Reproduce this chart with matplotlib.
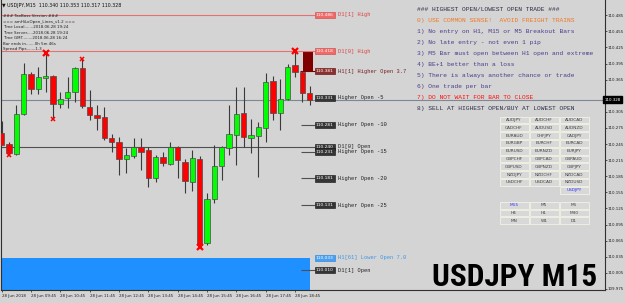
import matplotlib
matplotlib.use("Agg")
import matplotlib.pyplot as plt
from matplotlib.patches import Rectangle
from matplotlib import font_manager

W, H = 625, 303
BG = "#d4d4d4"

# USDJPY M15, 28 Jun 2018 08:45 .. 19:15
opens = [110.266, 110.245, 110.227, 110.301, 110.376, 110.348, 110.368, 110.372, 110.320, 110.331,
         110.342, 110.387, 110.314, 110.299, 110.295, 110.256, 110.249, 110.217, 110.223, 110.240,
         110.234, 110.182, 110.221, 110.208, 110.240, 110.212, 110.174, 110.217, 110.061, 110.143,
         110.204, 110.238, 110.262, 110.303, 110.256, 110.260, 110.275, 110.363, 110.303, 110.329,
         110.392, 110.379, 110.340]
highs = [110.288, 110.249, 110.318, 110.396, 110.379, 110.389, 110.415, 110.374, 110.342, 110.370,
         110.389, 110.404, 110.346, 110.318, 110.314, 110.264, 110.258, 110.238, 110.256, 110.256,
         110.240, 110.225, 110.230, 110.249, 110.241, 110.217, 110.234, 110.223, 110.154, 110.243,
         110.241, 110.318, 110.351, 110.351, 110.292, 110.286, 110.377, 110.372, 110.366, 110.394,
         110.418, 110.381, 110.353]
lows = [110.249, 110.225, 110.225, 110.299, 110.338, 110.338, 110.342, 110.292, 110.312, 110.312,
        110.323, 110.312, 110.290, 110.271, 110.253, 110.230, 110.187, 110.191, 110.219, 110.197,
        110.165, 110.174, 110.204, 110.206, 110.182, 110.154, 110.158, 110.053, 110.057, 110.135,
        110.178, 110.225, 110.206, 110.240, 110.228, 110.184, 110.249, 110.290, 110.271, 110.327,
        110.370, 110.323, 110.317]
closes = [110.243, 110.228, 110.301, 110.376, 110.348, 110.370, 110.372, 110.320, 110.329, 110.342,
          110.387, 110.316, 110.299, 110.294, 110.256, 110.249, 110.217, 110.225, 110.240, 110.230,
          110.182, 110.221, 110.210, 110.240, 110.215, 110.176, 110.219, 110.057, 110.143, 110.204,
          110.240, 110.264, 110.301, 110.258, 110.262, 110.277, 110.361, 110.303, 110.329, 110.389,
          110.379, 110.340, 110.328]

time_bars = [0, 4, 8, 12, 16, 20, 24, 28, 32, 36, 40]
time_labels = ["28 Jun 2018", "28 Jun 09:45", "28 Jun 10:45", "28 Jun 11:45", "28 Jun 12:45",
               "28 Jun 13:45", "28 Jun 14:45", "28 Jun 15:45", "28 Jun 16:45", "28 Jun 17:45",
               "28 Jun 18:45"]
price_ticks = [109.975, 110.005, 110.035, 110.065, 110.095, 110.125, 110.155, 110.185, 110.215,
               110.245, 110.275, 110.305, 110.335, 110.365, 110.395, 110.425, 110.455, 110.485]
bid = 110.328

level_names = ["D1[1] High", "D1[0] High", "H1[1] Higher Open 3.7", "Higher Open -5",
               "Higher Open -10", "D1[0] Open", "Higher Open -15", "Higher Open -20",
               "Higher Open -25", "H1[61] Lower Open 7.0", "D1[1] Open"]
level_prices = [110.486, 110.418, 110.381, 110.331, 110.281, 110.240, 110.231, 110.181,
                110.131, 110.033, 110.010]
level_kinds = ["high", "high", "h1", "dark", "dark", "dark", "dark", "dark", "dark", "low", "dark"]

fractal_bars = [6, 40, 27, 11, 7, 1]
fractal_prices = [110.415, 110.418, 110.053, 110.404, 110.292, 110.225]
fractal_big = [True, True, True, False, False, False]

info_lines = ["### TaxBoss Version ###", "=== amHiLoOpen_Lines_v1.2 ===",
              "Time Local.......2018.06.28 19:24", "Time Server.....2018.06.28 19:24",
              "Time GMT........2018.06.28 16:24", "Bar ends in.......0h 5m 46s",
              "Spread Pips.......1.3"]

rules = ["### HIGHEST OPEN/LOWEST OPEN TRADE ###",
         "0) USE COMMON SENSE!  AVOID FREIGHT TRAINS",
         "1) No entry on H1, M15 or M5 Breakout Bars",
         "2) No late entry - not even 1 pip",
         "3) M5 Bar must open between H1 open and extreme",
         "4) BE+1 better than a loss",
         "5) There is always another chance or trade",
         "6) One trade per bar",
         "7) DO NOT WAIT FOR BAR TO CLOSE",
         "8) SELL AT HIGHEST OPEN/BUY AT LOWEST OPEN"]
rule_colors = ["#2e2e48", "#f07828", "#4b3c8c", "#4b3c8c", "#4b3c8c", "#4b3c8c", "#4b3c8c",
               "#4b3c8c", "#ff1010", "#2e2e48"]

pairs = [["AUDJPY", "AUDCHF", "AUDCAD"], ["CADCHF", "AUDUSD", "AUDNZD"],
         ["EURAUD", "CHFJPY", "CADJPY"], ["EURGBP", "EURCHF", "EURCAD"],
         ["EURUSD", "EURNZD", "EURJPY"], ["GBPCHF", "GBPCAD", "GBPAUD"],
         ["GBPUSD", "GBPNZD", "GBPJPY"], ["NZDJPY", "NZDCHF", "NZDCAD"],
         ["USDCHF", "USDCAD", "NZDUSD"], ["", "", "USDJPY"]]
timeframes = [["M15", "M5", "M1"], ["H4", "H1", "M30"], ["MN", "W1", "D1"]]
active = ["USDJPY", "M15"]

# ---- pixel helpers (image coords, y down) ----
PX_PER_BAR = 7.33
X0 = 1.7
PX_PER_PRICE = 536.7
P_AT_289 = 109.975


def xi(px):
    return (px - X0) / PX_PER_BAR


def fx(px):
    return px / W


def fy(py):
    return 1 - py / H


fig = plt.figure(figsize=(W / 100, H / 100), dpi=100, facecolor=BG)
ax = fig.add_axes([1.5 / W, 1 - 290 / H, (604.5 - 1.5) / W, 290 / H])
ax.set_facecolor(BG)
ax.set_xlim(xi(1.5), xi(604.5))
ax.set_ylim(P_AT_289 - 1 / PX_PER_PRICE, P_AT_289 + 289 / PX_PER_PRICE)

ax.spines["top"].set_visible(False)
for s in ["left", "right", "bottom"]:
    ax.spines[s].set_color("#303030")
    ax.spines[s].set_linewidth(0.8)

# blue lower-open zone
ax.add_patch(Rectangle((xi(-2), ax.get_ylim()[0]), xi(310) - xi(-2),
                       level_prices[9] - ax.get_ylim()[0], fc="#1e90ff", ec="none", zorder=1))
# current H1 block
ax.add_patch(Rectangle((xi(303), level_prices[2]), xi(313) - xi(303),
                       level_prices[1] - level_prices[2], fc="#800000", ec="none", zorder=1))

# level lines
ax.hlines([level_prices[0], level_prices[1]], xi(0), xi(315), color="#e87070", lw=0.8, zorder=2)
ax.hlines(level_prices[5], xi(0), xi(315), color="#505050", lw=0.8, zorder=2)
ax.hlines(bid, xi(0), xi(605), color="#7c8896", lw=0.8, zorder=2)
ax.hlines([level_prices[i] for i in [4, 6, 7, 8, 10]], xi(301), xi(315), color="#505050", lw=0.8, zorder=2)
ax.hlines(level_prices[2], xi(300), xi(315), color="#800000", lw=0.8, zorder=2)

# candles
n = len(opens)
for i in range(n):
    o, h, l, c = opens[i], highs[i], lows[i], closes[i]
    ax.vlines(i, l, h, color="#3a3a3a", lw=0.8, zorder=3)
    col = "#00ff00" if c >= o else "#ff0000"
    ax.bar(i, max(abs(c - o), 0.0012), bottom=min(o, c), width=0.72, color=col,
           edgecolor="#4a4a4a", linewidth=0.5, zorder=4)

# fractal markers
for b, p, big in zip(fractal_bars, fractal_prices, fractal_big):
    ax.plot(b, p, marker="x", color="#ff0000", ms=5 if big else 3, mew=1.6 if big else 1.1,
            zorder=5, clip_on=False)

# level price boxes + names
box_style = {"high": ("#f06a6a", "#d04040", "#e04040"),
             "h1": ("#8b3030", "#600000", "#702020"),
             "dark": ("#353535", "#101010", "#202020"),
             "low": ("#4aa0f0", "#2080e0", "#3c96e6")}
for name, p, kind in zip(level_names, level_prices, level_kinds):
    fc, ec, tc = box_style[kind]
    ax.text(xi(316), p, f"{p:.3f}", fontsize=3.2, color="white", va="center", ha="left",
            bbox=dict(boxstyle="square,pad=0.25", fc=fc, ec=ec, lw=0.4), zorder=6)
    ax.text(xi(338), p, name, fontsize=3.9, color=tc, va="center", ha="left",
            family="Liberation Mono", zorder=6)

# right price axis (label under the bid box left blank)
ax.yaxis.tick_right()
ax.set_yticks(price_ticks)
ax.set_yticklabels(["" if abs(p - 110.335) < 1e-6 else f"{p:.3f}" for p in price_ticks])
ax.tick_params(axis="y", labelsize=2.9, length=1.5, width=0.5, pad=0.8, colors="#202020")
ax.text(xi(604.5), bid, f"{bid:.3f}", fontsize=2.9, color="white", va="center", ha="left",
        bbox=dict(boxstyle="square,pad=0.4", fc="black", ec="black"), zorder=7, clip_on=False)

# time axis
ax.set_xticks(time_bars)
ax.set_xticklabels(time_labels)
ax.tick_params(axis="x", labelsize=2.9, length=1.5, width=0.5, pad=1.5, colors="#202020")
for lbl in ax.get_xticklabels():
    lbl.set_ha("left")

# title bar
fig.text(fx(2), fy(5), "\u25bc USDJPY,M15  110.340 110.353 110.317 110.328", fontsize=3.4,
         color="#101010", va="center", ha="left")

# info panel top-left
info_y = [15.7, 21.7, 27.2, 32.7, 38.3, 43.6, 49.2]
for t, y in zip(info_lines, info_y):
    fig.text(fx(3), fy(y), t, fontsize=2.9, color="#202020", va="center", ha="left")

# rules panel
for k, (t, c) in enumerate(zip(rules, rule_colors)):
    fig.text(fx(417), fy(9.5 + 11 * k), t, fontsize=4.5, color=c, va="center", ha="left",
             family="Liberation Mono")


# symbol + timeframe buttons
def button(x, y, label):
    fig.patches.append(Rectangle((fx(x), fy(y + 3.4)), 29 / W, 6.8 / H, transform=fig.transFigure,
                                 fc="#d8d8d8", ec="#f2f2e4", lw=0.6))
    col = "#3030ff" if label in active else "#404040"
    fig.text(fx(x + 14.5), fy(y), label, fontsize=3.1, color=col, va="center", ha="center")


for r, row in enumerate(pairs):
    for cidx, lab in enumerate(row):
        if lab:
            button(499.5 + 30 * cidx, 120 + 7.8 * r, lab)
for r, row in enumerate(timeframes):
    for cidx, lab in enumerate(row):
        button(499.5 + 30 * cidx, 205.3 + 7.6 * r, lab)

# big symbol label, condensed face if one is installed
names = {f.name for f in font_manager.fontManager.ttflist}
if "Liberation Sans Narrow" in names:
    big_font, big_size, big_weight = "Liberation Sans Narrow", 22.5, "bold"
elif "Roboto Condensed" in names:
    big_font, big_size, big_weight = "Roboto Condensed", 22.5, "bold"
elif "Roboto" in names:
    big_font, big_size, big_weight = "Roboto", 19.5, "black"
else:
    big_font, big_size, big_weight = "DejaVu Sans", 17.5, "bold"
fig.text(fx(432), fy(285.5), "USDJPY M15", fontsize=big_size, fontweight=big_weight, color="black",
         family=big_font, va="baseline", ha="left")

fig.savefig("out.png", dpi=100, facecolor=BG)
